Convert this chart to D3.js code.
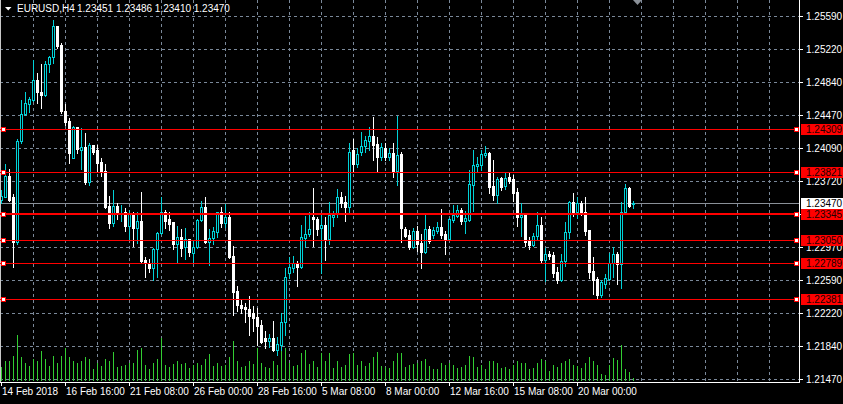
<!DOCTYPE html>
<html><head><meta charset="utf-8">
<script src="https://cdn.jsdelivr.net/npm/d3@7"></script>
<style>html,body{margin:0;padding:0;background:#000;overflow:hidden}svg{display:block}</style>
</head><body>
<svg id="c" width="843" height="404"></svg>
<script>
const symbolTitle = "EURUSD,H4";
const lastQuote = ["1.23451", "1.23486", "1.23410", "1.23470"];

const openP = [1.2350,1.2354,1.2377,1.2353,1.2303,1.2417,1.2448,1.2459,1.2464,1.2486,
1.2473,1.2469,1.2505,1.2512,1.2548,1.2526,1.2451,1.2440,1.2398,1.2433,
1.2407,1.2410,1.2371,1.2413,1.2407,1.2393,1.2383,1.2343,1.2324,1.2343,
1.2336,1.2337,1.2321,1.2334,1.2318,1.2326,1.2282,1.2279,1.2273,1.2294,
1.2313,1.2336,1.2329,1.2325,1.2300,1.2308,1.2297,1.2306,1.2290,1.2297,
1.2328,1.2342,1.2303,1.2307,1.2314,1.2336,1.2324,1.2331,1.2287,1.2247,
1.2231,1.2229,1.2227,1.2222,1.2217,1.2208,1.2194,1.2190,1.2193,1.2180,
1.2186,1.2212,1.2267,1.2273,1.2279,1.2274,1.2307,1.2312,1.2331,1.2329,
1.2318,1.2322,1.2306,1.2331,1.2334,1.2354,1.2348,1.2342,1.2407,1.2391,
1.2405,1.2412,1.2417,1.2423,1.2414,1.2399,1.2409,1.2399,1.2404,1.2383,
1.2402,1.2317,1.2311,1.2297,1.2315,1.2301,1.2291,1.2317,1.2311,1.2315,
1.2320,1.2312,1.2306,1.2328,1.2332,1.2339,1.2326,1.2328,1.2367,1.2389,
1.2390,1.2401,1.2404,1.2366,1.2356,1.2375,1.2366,1.2376,1.2374,1.2359,
1.2331,1.2333,1.2304,1.2299,1.2309,1.2322,1.2282,1.2289,1.2288,1.2269,
1.2259,1.2281,1.2314,1.2348,1.2336,1.2347,1.2336,1.2316,1.2270,1.2261,
1.2242,1.2255,1.2261,1.2279,1.2289,1.2278,1.2337,1.2364,1.23451];

const highP = [1.2362,1.2391,1.2385,1.2357,1.2419,1.2464,1.2473,1.2467,1.2509,1.2494,
1.2505,1.2508,1.2514,1.2555,1.2548,1.2528,1.2459,1.2443,1.2434,1.2433,
1.2432,1.2426,1.2415,1.2413,1.2413,1.2398,1.2391,1.2355,1.2362,1.2347,
1.2345,1.2341,1.2339,1.2336,1.2336,1.2359,1.2286,1.2283,1.2296,1.2314,
1.2353,1.2339,1.2337,1.2325,1.2321,1.2317,1.2318,1.2306,1.2305,1.2329,
1.2349,1.2354,1.2317,1.2320,1.2337,1.2342,1.2346,1.2337,1.2298,1.2253,
1.2237,1.2233,1.2241,1.2230,1.2228,1.2214,1.2201,1.2198,1.2213,1.2195,
1.2222,1.2273,1.2286,1.2287,1.2281,1.2322,1.2332,1.2336,1.2364,1.2331,
1.2333,1.2331,1.2348,1.2338,1.2363,1.2359,1.2355,1.2415,1.2419,1.2409,
1.2427,1.2423,1.2433,1.2444,1.2422,1.2415,1.2415,1.2409,1.2415,1.2446,
1.2405,1.2320,1.2316,1.2318,1.2321,1.2312,1.2333,1.2321,1.2320,1.2325,
1.2340,1.2315,1.2330,1.2345,1.2345,1.2341,1.2338,1.2384,1.2407,1.2399,
1.2407,1.2412,1.2405,1.2396,1.2376,1.2376,1.2381,1.2381,1.2379,1.2364,
1.2347,1.2333,1.2308,1.2313,1.2336,1.2331,1.2296,1.2292,1.2291,1.2274,
1.2289,1.2325,1.2349,1.2358,1.2353,1.2349,1.2354,1.2316,1.2286,1.2263,
1.2259,1.2266,1.2290,1.2297,1.2291,1.2348,1.2368,1.2365,1.23486];

const lowP = [1.2347,1.2353,1.2349,1.2274,1.2300,1.2415,1.2447,1.2450,1.2463,1.2460,
1.2455,1.2468,1.2495,1.2506,1.2523,1.2449,1.2435,1.2392,1.2398,1.2404,
1.2385,1.2368,1.2367,1.2402,1.2382,1.2377,1.2341,1.2318,1.2321,1.2329,
1.2326,1.2315,1.2306,1.2298,1.2301,1.2280,1.2263,1.2269,1.2259,1.2263,
1.2312,1.2318,1.2316,1.2294,1.2279,1.2287,1.2283,1.2287,1.2279,1.2296,
1.2326,1.2301,1.2276,1.2300,1.2308,1.2320,1.2320,1.2284,1.2220,1.2224,
1.2222,1.2212,1.2197,1.2201,1.2186,1.2188,1.2182,1.2183,1.2179,1.2174,
1.2180,1.2197,1.2262,1.2269,1.2252,1.2273,1.2297,1.2309,1.2298,1.2311,
1.2267,1.2282,1.2300,1.2321,1.2331,1.2342,1.2326,1.2336,1.2383,1.2388,
1.2401,1.2405,1.2407,1.2396,1.2383,1.2396,1.2395,1.2395,1.2376,1.2367,
1.2303,1.2308,1.2295,1.2296,1.2292,1.2273,1.2290,1.2301,1.2307,1.2313,
1.2307,1.2289,1.2306,1.2325,1.2331,1.2323,1.2313,1.2326,1.2338,1.2382,
1.2384,1.2399,1.2358,1.2350,1.2347,1.2362,1.2363,1.2370,1.2349,1.2321,
1.2309,1.2298,1.2295,1.2298,1.2306,1.2279,1.2258,1.2283,1.2263,1.2256,
1.2258,1.2275,1.2307,1.2332,1.2330,1.2333,1.2311,1.2262,1.2244,1.2239,
1.2240,1.2250,1.2259,1.2263,1.2255,1.2250,1.2337,1.2342,1.23410];

const closeP = [1.2355,1.2377,1.2350,1.2303,1.2417,1.2448,1.2460,1.2465,1.2486,1.2473,
1.2469,1.2505,1.2512,1.2548,1.2525,1.2451,1.2439,1.2404,1.2433,1.2408,
1.2410,1.2371,1.2413,1.2405,1.2392,1.2383,1.2342,1.2324,1.2343,1.2337,
1.2337,1.2321,1.2334,1.2318,1.2326,1.2281,1.2279,1.2273,1.2294,1.2313,
1.2336,1.2326,1.2323,1.2300,1.2308,1.2296,1.2306,1.2291,1.2297,1.2328,
1.2342,1.2303,1.2307,1.2315,1.2336,1.2324,1.2331,1.2286,1.2246,1.2231,
1.2228,1.2226,1.2219,1.2216,1.2207,1.2189,1.2190,1.2193,1.2180,1.2187,
1.2212,1.2263,1.2274,1.2279,1.2274,1.2308,1.2312,1.2317,1.2329,1.2317,
1.2322,1.2306,1.2333,1.2333,1.2354,1.2347,1.2342,1.2405,1.2391,1.2402,
1.2412,1.2418,1.2423,1.2413,1.2399,1.2410,1.2399,1.2404,1.2383,1.2401,
1.2318,1.2309,1.2297,1.2315,1.2300,1.2291,1.2317,1.2304,1.2316,1.2320,
1.2311,1.2306,1.2329,1.2333,1.2339,1.2326,1.2330,1.2368,1.2390,1.2391,
1.2402,1.2404,1.2365,1.2356,1.2374,1.2365,1.2375,1.2372,1.2358,1.2331,
1.2333,1.2303,1.2299,1.2309,1.2322,1.2282,1.2289,1.2287,1.2267,1.2259,
1.2281,1.2314,1.2348,1.2336,1.2347,1.2336,1.2315,1.2269,1.2259,1.2242,
1.2257,1.2262,1.2279,1.2289,1.2278,1.2337,1.2364,1.2343,1.23470];

const volumes = [14,20,20,25,46,24,18,15,22,20,
30,22,15,25,18,25,33,24,20,18,
20,24,22,12,18,15,22,20,29,14,
15,16,18,18,31,33,16,12,18,22,
43,16,14,17,20,17,18,13,16,18,
16,22,27,15,18,15,16,24,40,20,
14,15,20,17,33,18,14,13,20,16,
36,33,18,15,16,28,31,17,20,14,
28,20,28,13,20,14,16,27,28,16,
20,15,18,24,29,15,14,13,20,28,
28,14,16,17,18,20,22,15,12,12,
18,16,18,16,13,14,16,25,24,14,
16,12,20,20,18,13,14,12,16,20,
18,18,12,13,18,22,20,10,16,14,
18,20,22,16,15,13,18,24,20,16,
7,6,16,23,21,36,12,9,3];

const priceTicks = [1.2559,1.2522,1.2484,1.2447,1.2409,1.2372,1.2334,1.2297,1.2259,1.2222,1.2184,1.2147];
const timeLabelIndex = [0,16,32,48,64,80,96,112,128,144];
const timeLabels = ["14 Feb 2018","16 Feb 16:00","21 Feb 08:00","26 Feb 00:00","28 Feb 16:00","5 Mar 08:00","8 Mar 00:00","12 Mar 16:00","15 Mar 08:00","20 Mar 00:00"];
const levelLines = [1.24309,1.23821,1.23345,1.23050,1.22789,1.22381];
const currentPrice = 1.23470;

// ---------- drawing ----------
const W = 843, H = 404;
const plotRight = 799, plotBottom = 382;
const FONT = "'Liberation Sans', Arial, sans-serif";
const BULL = "#00d2d8", BEAR = "#ffffff", GRID = "#7a8899", RED = "#ff0000";
const thickLevel = 1.23345;

const svg = d3.select("#c");
svg.append("rect").attr("width", W).attr("height", H).attr("fill", "#000");

const y = d3.scaleLinear().domain([1.2147, 1.2559]).range([379, 16]);
const x = d3.scaleLinear().domain([0, 158]).range([1.5, 633.5]);
const vy = d3.scaleLinear().domain([0, d3.max(volumes)]).range([381, 335]);
const py = v => Math.round(y(v));

// grid
const g = svg.append("g");
const vGrid = d3.range(8, 200, 8).map(i => x(i)).filter(v => v < plotRight - 2);
g.selectAll("line.vg").data(vGrid).join("line")
  .attr("x1", d => Math.floor(d) + 0.5).attr("x2", d => Math.floor(d) + 0.5)
  .attr("y1", 0).attr("y2", plotBottom)
  .attr("stroke", GRID).attr("stroke-dasharray", "3,3");
g.selectAll("line.hg").data(priceTicks).join("line")
  .attr("x1", 0).attr("x2", plotRight)
  .attr("y1", d => py(d) + 0.5).attr("y2", d => py(d) + 0.5)
  .attr("stroke", GRID).attr("stroke-dasharray", "3,3");

// volumes
svg.append("g").selectAll("rect").data(volumes).join("rect")
  .attr("x", (d, i) => Math.floor(x(i)))
  .attr("width", 1)
  .attr("y", d => Math.round(vy(d)))
  .attr("height", d => 381 - Math.round(vy(d)))
  .attr("fill", "#32cd32");

// current price line (behind bars)
svg.append("line").attr("x1", 0).attr("x2", plotRight)
  .attr("y1", py(currentPrice) + 0.5).attr("y2", py(currentPrice) + 0.5)
  .attr("stroke", "#8a9098");

// candles
const candles = openP.map((o, i) => ({ i, o, h: highP[i], l: lowP[i], c: closeP[i] }));
const cg = svg.append("g");
candles.forEach(d => {
  const cx = Math.floor(x(d.i));
  const bull = d.c >= d.o;
  const col = bull ? BULL : BEAR;
  const yh = py(d.h), yl = py(d.l);
  const yt = py(Math.max(d.o, d.c)), yb = py(Math.min(d.o, d.c));
  cg.append("rect").attr("x", cx).attr("width", 1).attr("y", yh).attr("height", yl - yh + 1).attr("fill", col);
  if (bull) {
    cg.append("rect").attr("x", cx - 0.5).attr("width", 2)
      .attr("y", yt + 0.5).attr("height", Math.max(yb - yt, 0))
      .attr("fill", "#000").attr("stroke", col).attr("stroke-width", 1);
  } else {
    cg.append("rect").attr("x", cx - 1).attr("width", 3)
      .attr("y", yt).attr("height", Math.max(yb - yt + 1, 1)).attr("fill", col);
  }
});

// frame
svg.append("line").attr("x1", plotRight + 0.5).attr("x2", plotRight + 0.5).attr("y1", 0).attr("y2", plotBottom + 1).attr("stroke", "#fff");
svg.append("line").attr("x1", 0).attr("x2", plotRight + 1).attr("y1", plotBottom + 0.5).attr("y2", plotBottom + 0.5).attr("stroke", "#fff");
svg.append("line").attr("x1", 0.5).attr("x2", 0.5).attr("y1", 0).attr("y2", plotBottom).attr("stroke", "#c8c8c8");

// price axis
const ax = svg.append("g");
ax.selectAll("line").data(priceTicks).join("line")
  .attr("x1", plotRight).attr("x2", plotRight + 4)
  .attr("y1", d => py(d) + 0.5).attr("y2", d => py(d) + 0.5).attr("stroke", "#fff");
ax.selectAll("text").data(priceTicks).join("text")
  .attr("x", 806).attr("y", d => py(d) + 4)
  .attr("fill", "#fff").attr("font-family", FONT).attr("font-size", "10px")
  .text(d => d3.format(".5f")(d));

// time axis
const tx = svg.append("g");
tx.selectAll("line").data(timeLabelIndex).join("line")
  .attr("x1", d => Math.floor(x(d)) + 0.5).attr("x2", d => Math.floor(x(d)) + 0.5)
  .attr("y1", plotBottom).attr("y2", plotBottom + 4).attr("stroke", "#fff");
tx.selectAll("text").data(timeLabelIndex).join("text")
  .attr("x", d => Math.floor(x(d)) + 1).attr("y", 395)
  .attr("fill", "#fff").attr("font-family", FONT).attr("font-size", "10px")
  .text((d, k) => timeLabels[k]);

// level lines (on top)
const lv = svg.append("g");
levelLines.forEach(v => {
  const yy = py(v);
  const thick = v === thickLevel;
  lv.append("line").attr("x1", 0).attr("x2", plotRight)
    .attr("y1", thick ? yy : yy + 0.5).attr("y2", thick ? yy : yy + 0.5)
    .attr("stroke", RED).attr("stroke-width", thick ? 2 : 1);
  [1.5, 794.5].forEach(sx => {
    lv.append("rect").attr("x", sx).attr("y", yy - 1.5).attr("width", 4).attr("height", 4)
      .attr("fill", "#fff").attr("stroke", RED);
  });
});

// current price label
const cpY = py(currentPrice);
svg.append("rect").attr("x", 801).attr("y", cpY - 5).attr("width", 42).attr("height", 11).attr("fill", "#fff");
svg.append("text").attr("x", 806).attr("y", cpY + 4).attr("fill", "#000")
  .attr("font-family", FONT).attr("font-size", "10px").text(d3.format(".5f")(currentPrice));

// level labels
levelLines.forEach(v => {
  const yy = py(v);
  svg.append("rect").attr("x", 801).attr("y", yy - 5).attr("width", 42).attr("height", 11).attr("fill", RED);
  svg.append("text").attr("x", 806).attr("y", yy + 4).attr("fill", "#200000")
    .attr("font-family", FONT).attr("font-size", "10px").text(d3.format(".5f")(v));
});

// title
svg.append("path").attr("d", "M5,7 L11.5,7 L8.25,10.5 Z").attr("fill", "#fff");
svg.append("text").attr("x", 17).attr("y", 12).attr("fill", "#fff")
  .attr("font-family", FONT).attr("font-size", "10px").text(symbolTitle);
svg.append("text").attr("x", 77).attr("y", 12).attr("fill", "#fff")
  .attr("font-family", FONT).attr("font-size", "10px").text(lastQuote.join(" "));

// shift marker
svg.append("path").attr("d", "M633,0 L642,0 L637.5,5 Z").attr("fill", "#8a9098");
</script>
</body></html>
